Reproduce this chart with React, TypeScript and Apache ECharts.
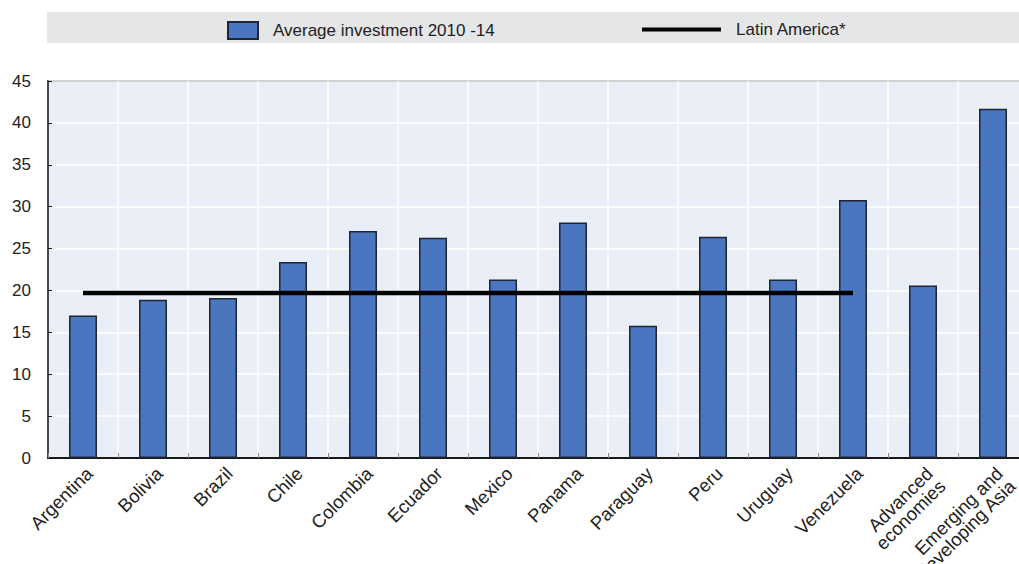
import React, { useEffect, useRef } from "react";
import * as echarts from "echarts";

const categories = [
  "Argentina",
  "Bolivia",
  "Brazil",
  "Chile",
  "Colombia",
  "Ecuador",
  "Mexico",
  "Panama",
  "Paraguay",
  "Peru",
  "Uruguay",
  "Venezuela",
  "Advanced\neconomies",
  "Emerging and\ndeveloping Asia",
];

const investment = [17.0, 18.9, 19.1, 23.4, 27.1, 26.3, 21.3, 28.1, 15.8, 26.4, 21.3, 30.8, 20.6, 41.7];

const latinAmerica = [19.7, 19.7, 19.7, 19.7, 19.7, 19.7, 19.7, 19.7, 19.7, 19.7, 19.7, 19.7, null, null];

const yTicks = { min: 0, max: 45, interval: 5 };

const barName = "Average investment 2010 -14";
const lineName = "Latin America*";

const FONT = "'Liberation Sans', Arial, sans-serif";

export default function App() {
  const ref = useRef<HTMLDivElement>(null);

  useEffect(() => {
    if (!ref.current) return;
    const chart = echarts.init(ref.current, null, { renderer: "svg" });
    chart.setOption({
      animation: false,
      textStyle: { fontFamily: FONT },
      graphic: [
        {
          type: "rect",
          z: -10,
          shape: { x: 47, y: 12, width: 972, height: 31 },
          style: { fill: "#E5E6E8" },
        },
      ],
      legend: [
        {
          data: [barName],
          left: 222,
          top: 16,
          itemWidth: 30,
          itemHeight: 17,
          icon: "rect",
          textStyle: { fontSize: 17, color: "#222", fontFamily: FONT, padding: [0, 0, 0, 10] },
        },
        {
          data: [lineName],
          left: 637,
          top: 16,
          itemWidth: 79,
          itemHeight: 17,
          icon: "path://M0,7L79,7L79,11L0,11Z",
          itemStyle: { color: "#000", borderWidth: 0 },
          textStyle: { fontSize: 17, color: "#222", fontFamily: FONT, padding: [0, 0, 0, 10] },
        },
      ],
      grid: {
        left: 48,
        top: 81,
        width: 980,
        bottom: 106,
        containLabel: false,
        outerBoundsMode: "none",
        show: true,
        backgroundColor: "#E9EEF7",
        borderColor: "#1a1a1a",
        borderWidth: 1.5,
      },
      xAxis: {
        type: "category",
        data: categories,
        boundaryGap: true,
        axisLine: { show: true, lineStyle: { color: "#1a1a1a", width: 2 } },
        axisTick: { show: true, inside: true, length: 5, lineStyle: { color: "#888" } },
        splitLine: { show: true, lineStyle: { color: "#FFFFFF", width: 1.5 } },
        axisLabel: {
          rotate: 45,
          margin: 6,
          interval: 0,
          fontSize: 18.5,
          lineHeight: 18,
          verticalAlign: "top",
          color: "#222",
          fontFamily: FONT,
        },
      },
      yAxis: {
        type: "value",
        min: yTicks.min,
        max: yTicks.max,
        interval: yTicks.interval,
        axisLine: { show: true, lineStyle: { color: "#1a1a1a", width: 1.5 } },
        axisTick: { show: true, inside: true, length: 4, lineStyle: { color: "#1a1a1a" } },
        splitLine: { show: true, lineStyle: { color: "#FFFFFF", width: 1.5 } },
        axisLabel: { fontSize: 17, color: "#222", margin: 17, fontFamily: FONT },
      },
      series: [
        {
          name: barName,
          type: "bar",
          data: investment,
          barWidth: "40%",
          itemStyle: { color: "#4A76C0", borderColor: "#1f2633", borderWidth: 1.5 },
          z: 2,
        },
        {
          name: lineName,
          type: "line",
          data: latinAmerica,
          symbol: "none",
          lineStyle: { color: "#000", width: 4.5 },
          itemStyle: { color: "#000" },
          z: 3,
        },
      ],
    });
    return () => chart.dispose();
  }, []);

  return <div ref={ref} style={{ width: 1019, height: 564, position: "absolute", left: 0, top: 0 }} />;
}
